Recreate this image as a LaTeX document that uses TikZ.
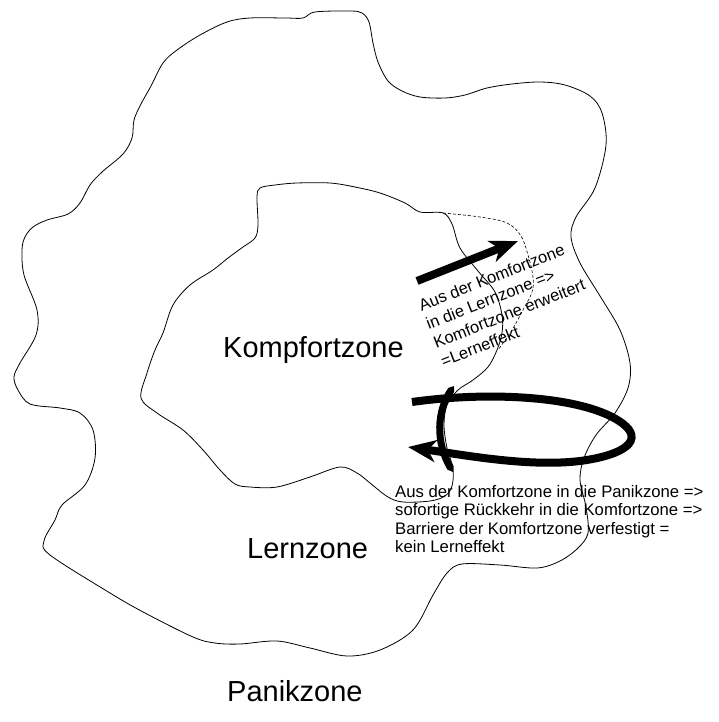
\documentclass[tikz,border=0pt]{standalone}
\usepackage{fontspec}
\setmainfont{Liberation Sans}
\usetikzlibrary{arrows.meta}

\begin{document}
\begin{tikzpicture}[x=1pt, y=-1pt,
    zone/.style={draw, line width=0.8pt},
    border/.style={draw, line width=0.6pt, dash pattern=on 3pt off 2pt},
    zonelabel/.style={anchor=base west, inner sep=0pt, font=\fontsize{29}{34}\selectfont},
    note/.style={anchor=north west, inner sep=0pt, align=left, font=\fontsize{16.7}{18.4}\selectfont},
    move/.style={line width=8pt, -{Stealth[length=28pt,width=22pt,inset=8pt]}},
    barrier/.style={line width=7pt, {Triangle[length=5pt,width=7pt]}-{Triangle[length=5pt,width=7pt]}}]
                \useasboundingbox (0,0) rectangle (718,722);

                % Zones
                \draw[zone] plot[smooth cycle, tension=0.55] coordinates {
                    (163,63) (177,50) (200,35) (227,22) (250,18) (285,18) (303,18) (315,12)
                    (350,11) (362,13) (369,22) (373,43) (378,62) (388,81) (402,91) (420,97)
                    (445,98) (465,95) (487,88) (512,84) (540,82) (565,85) (590,96) (602,113)
                    (606,145) (595,188) (576,217) (571,237) (580,263) (600,296) (620,330)
                    (630,363) (628,388) (615,413) (596,435) (584,458) (580,480) (586,507)
                    (588,533) (578,548) (560,561) (537,568) (500,565) (462,564) (447,573)
                    (433,595) (413,630) (380,650) (347,656) (310,648) (277,641) (240,644)
                    (215,643) (193,637) (145,613) (110,593) (50,555) (44,541) (55,520)
                    (62,505) (85,485) (95,458) (93,430) (80,413) (60,408) (30,404) (18,390)
                    (14,377) (20,363) (36,335) (37,310) (24,275) (22,250) (25,237) (33,227)
                    (47,220) (68,214) (80,203) (90,185) (102,172) (123,154) (132,138)
                    (134,120) (141,104) (151,86)};
                \draw[zone] plot[smooth cycle, tension=0.55] coordinates {
                    (257,197) (260,188) (275,185) (297,183) (330,183) (355,187) (380,193)
                    (405,203) (420,212) (443,213) (452,224) (460,248) (478,271) (495,292)
                    (502,315) (502,333) (497,350) (488,367) (473,380) (458,390) (447,405)
                    (444,425) (447,448) (453,468) (452,486) (445,496) (430,501) (403,502)
                    (388,497) (370,483) (357,473) (340,467) (310,477) (277,487) (250,487)
                    (235,484) (220,470) (203,450) (183,430) (157,413) (141,398) (147,373)
                    (155,350) (163,333) (173,305) (190,285) (213,270) (228,258) (243,247)
                    (255,238) (258,225)};
                \draw[border] plot[smooth, tension=0.6] coordinates {
                    (443,213) (480,217) (507,223) (521,236) (528,255) (533,277) (532,292)
                    (524,308) (512,330) (498,350)};

                % Nodes
                \node[zonelabel] (komfort) at (223,357) {Kompfortzone};
                \node[zonelabel] (lern) at (247,558) {Lernzone};
                \node[zonelabel] (panik) at (227,701) {Panikzone};
                \node[note, rotate=21.5, font=\fontsize{16.5}{20}\selectfont] (lerntext) at (417,300)
                    {Aus der Komfortzone\\in die Lernzone =>\\Komfortzone erweitert\\=Lerneffekt};
                \node[note] (paniktext) at (395,485)
                    {Aus der Komfortzone in die Panikzone =>\\sofortige Rückkehr in die Komfortzone =>\\Barriere der Komfortzone verfestigt =\\kein Lerneffekt};
                \coordinate (lernstart) at (417,281);
                \coordinate (lernend) at (518,241);
                \coordinate (panikstart) at (412,402);
                \coordinate (panikend) at (408,447);
                \coordinate (walltop) at (454,386);
                \coordinate (wallbottom) at (453,472);

                % Edges
                \draw[move] (lernstart)--(lernend);
                \draw[move] (panikstart) .. controls (490,391) and (585,396) .. (622,423)
                    .. controls (645,440) and (625,455) .. (580,461)
                    .. controls (530,467) and (470,456) .. (panikend);
                \draw[barrier] (walltop) .. controls (437,410) and (435,442) .. (wallbottom);
            \end{tikzpicture}
\end{document}
